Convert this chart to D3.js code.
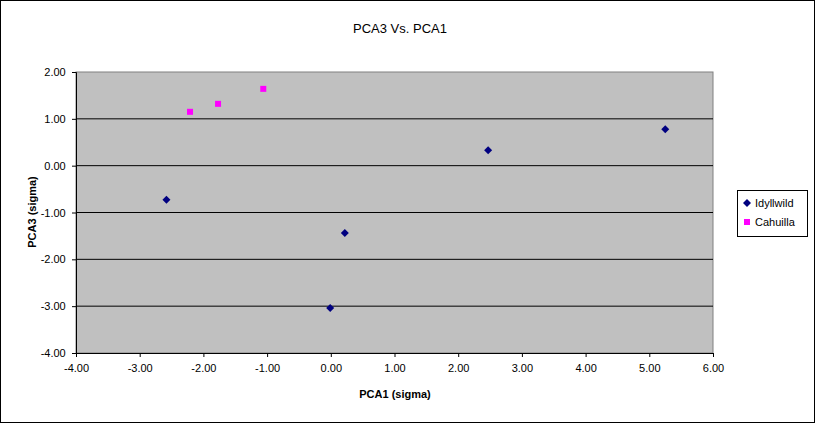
<!DOCTYPE html>
<html><head><meta charset="utf-8">
<script src="https://cdn.jsdelivr.net/npm/d3@7"></script>
<style>body{margin:0;background:#fff}text{font-family:Arial,"Liberation Sans",sans-serif}</style>
</head><body><svg id="c" width="815" height="423"></svg>
<script>
const idyllwildX = [-2.58, 0.22, -0.01, 2.47, 5.25];
const idyllwildY = [-0.73, -1.44, -3.04, 0.33, 0.78];
const cahuillaX = [-2.21, -1.77, -1.06];
const cahuillaY = [1.15, 1.32, 1.64];
const xTicks = [-4, -3, -2, -1, 0, 1, 2, 3, 4, 5, 6];
const yTicks = [-4, -3, -2, -1, 0, 1, 2];

const svg = d3.select('#c');
svg.append('rect').attr('x',0.5).attr('y',0.5).attr('width',814).attr('height',422)
  .attr('fill','#fff').attr('stroke','#000');

const x = d3.scaleLinear().domain([-4,6]).range([76,713]);
const y = d3.scaleLinear().domain([-4,2]).range([353,72]);
const fmt = d => d3.format('.2f')(d).replace('\u2212','-');

svg.append('rect').attr('x',76).attr('y',72).attr('width',637).attr('height',281)
  .attr('fill','#c0c0c0').attr('stroke','#808080');

svg.selectAll('.grid').data(yTicks.slice(1,-1)).join('line')
  .attr('x1',76).attr('x2',713).attr('y1',d=>y(d)).attr('y2',d=>y(d)).attr('stroke','#000');

const xa = svg.append('g').attr('transform','translate(0,353)')
  .call(d3.axisBottom(x).tickValues(xTicks).tickFormat(fmt).tickSize(4));
const ya = svg.append('g').attr('transform','translate(76,0)')
  .call(d3.axisLeft(y).tickValues(yTicks).tickFormat(fmt).tickSize(4));
[xa,ya].forEach(a=>{a.select('.domain').attr('stroke','#000');
  a.selectAll('text').attr('font-size',11).attr('fill','#000');a.selectAll('line').attr('stroke','#000');});
xa.selectAll('text').attr('dy','1.1em');
ya.selectAll('text').attr('dx','-0.3em');

svg.append('text').attr('x',400).attr('y',33).attr('text-anchor','middle').attr('font-size',13).text('PCA3 Vs. PCA1');
svg.append('text').attr('x',395).attr('y',398).attr('text-anchor','middle').attr('font-size',11).attr('font-weight','bold').text('PCA1 (sigma)');
svg.append('text').attr('transform','translate(36,212) rotate(-90)').attr('text-anchor','middle').attr('font-size',11).attr('font-weight','bold').text('PCA3 (sigma)');

const diamond = 'M0,-4L4,0L0,4L-4,0Z';
svg.selectAll('.i').data(idyllwildX).join('path')
  .attr('d',diamond).attr('transform',(d,i)=>`translate(${x(d)},${y(idyllwildY[i])})`).attr('fill','#000080');
svg.selectAll('.cq').data(cahuillaX).join('rect')
  .attr('x',d=>x(d)-3).attr('y',(d,i)=>y(cahuillaY[i])-3).attr('width',6).attr('height',6).attr('fill','#ff00ff');

const lg = svg.append('g');
lg.append('rect').attr('x',737.5).attr('y',190.5).attr('width',70).attr('height',46).attr('fill','#fff').attr('stroke','#000');
lg.append('path').attr('d',diamond).attr('transform','translate(747,203)').attr('fill','#000080');
lg.append('text').attr('x',755).attr('y',207).attr('font-size',11).text('Idyllwild');
lg.append('rect').attr('x',744).attr('y',219).attr('width',6).attr('height',6).attr('fill','#ff00ff');
lg.append('text').attr('x',755).attr('y',226).attr('font-size',11).text('Cahuilla');
</script></body></html>
